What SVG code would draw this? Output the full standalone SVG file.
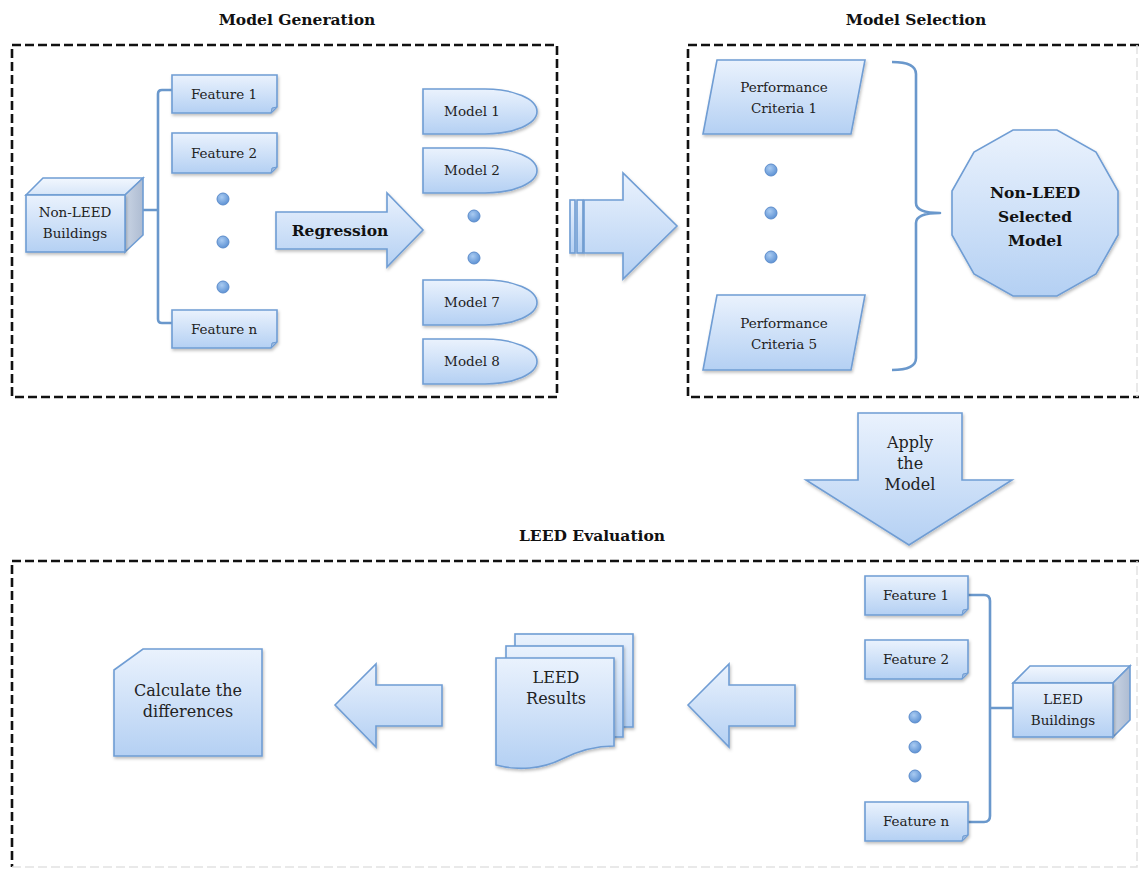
<svg xmlns="http://www.w3.org/2000/svg" width="1139" height="869" viewBox="0 0 1139 869">
<defs>
<linearGradient id="g" x1="0" y1="0" x2="0" y2="1"><stop offset="0" stop-color="#eaf2fd"/><stop offset="1" stop-color="#b4d0f3"/></linearGradient>
<linearGradient id="gt" x1="0" y1="0" x2="0" y2="1"><stop offset="0" stop-color="#f2f7fe"/><stop offset="1" stop-color="#d6e5f8"/></linearGradient>
<linearGradient id="gs" x1="0" y1="0" x2="1" y2="0"><stop offset="0" stop-color="#c9d4e4"/><stop offset="1" stop-color="#aebcd2"/></linearGradient>
<radialGradient id="gd" cx="0.4" cy="0.35" r="0.7"><stop offset="0" stop-color="#a9cbf2"/><stop offset="1" stop-color="#5a8fd2"/></radialGradient>
<filter id="sh" x="-10%" y="-10%" width="130%" height="130%"><feDropShadow dx="1" dy="2" stdDeviation="1.5" flood-color="#000" flood-opacity="0.25"/></filter>
</defs>
<style>
.s{fill:url(#g);stroke:#6f9dd4;stroke-width:1.6;filter:url(#sh)}
.top{fill:url(#gt);stroke:#6f9dd4;stroke-width:1.6}
.side{fill:url(#gs);stroke:#6f9dd4;stroke-width:1.6}
.dot{fill:url(#gd);stroke:#5c8ccb;stroke-width:1}
.frame{fill:none;stroke:#111;stroke-width:2.6;stroke-dasharray:9 4}
.faint{fill:none;stroke:#e2e2e2;stroke-width:1.5;stroke-dasharray:9 4}
.conn{fill:none;stroke:#6a98cc;stroke-width:2.6;stroke-linejoin:round}
text{font-family:"DejaVu Serif","Liberation Serif",serif;fill:#222;text-anchor:middle}
.t{font-size:13.5px}
.m{font-size:16px}
.b{font-weight:bold;font-size:15.5px;fill:#111}
</style>

<g id="frames">
<rect class="frame" x="12" y="45" width="545" height="352"/>
<path class="frame" d="M1139,45 H688 V397 H1139"/>
<path class="faint" d="M1137,45 V397"/>
<path class="frame" d="M1139,561 H12 V867"/>
<path class="faint" d="M12,867 H1137 V561"/>
<text class="b" x="297" y="25">Model Generation</text>
<text class="b" x="916" y="25">Model Selection</text>
<text class="b" x="592" y="541">LEED Evaluation</text>
</g>

<g id="connectors">
<path class="conn" d="M143,210 H158 M172,90 H162 Q158,90 158,94 V319 Q158,323 162,323 H172"/>
<path class="conn" d="M892,62 Q916,62 916,74 V203 Q916,213 940,213 Q916,213 916,223 V358 Q916,370 892,370"/>
<path class="conn" d="M968,595 H984 Q990,595 990,601 V816 Q990,822 984,822 H968 M990,708 H1013"/>
</g>

<g id="non-leed-buildings">
<polygon class="top" points="26,195 43,178 143,178 125,195"/>
<polygon class="side" points="125,195 143,178 143,235 125,252"/>
<rect class="s" x="26" y="195" width="99" height="57"/>
<text class="t" x="75" y="217">Non-LEED</text>
<text class="t" x="75" y="238">Buildings</text>
</g>

<g id="feature-1"><path class="s" d="M172,75 H277 V107 L271,113 H172 Z"/><path d="M277,107 L271,113 L272,108 Z" fill="#9bb8de" stroke="#6f9dd4" stroke-width="1"/><text class="t" x="224" y="99">Feature 1</text></g>
<g id="feature-2"><path class="s" d="M172,133 H277 V167 L271,173 H172 Z"/><path d="M277,167 L271,173 L272,168 Z" fill="#9bb8de" stroke="#6f9dd4" stroke-width="1"/><text class="t" x="224" y="158">Feature 2</text></g>
<g id="feature-dots-1"><circle class="dot" cx="223" cy="199" r="6"/><circle class="dot" cx="223" cy="242" r="6"/><circle class="dot" cx="223" cy="287" r="6"/></g>
<g id="feature-n"><path class="s" d="M172,310 H277 V342 L271,348 H172 Z"/><path d="M277,342 L271,348 L272,343 Z" fill="#9bb8de" stroke="#6f9dd4" stroke-width="1"/><text class="t" x="224" y="334">Feature n</text></g>

<g id="regression">
<polygon class="s" points="276,212 387,212 387,193 423,230 387,267 387,249 276,249"/>
<text class="b" x="340" y="236">Regression</text>
</g>

<g id="model-1"><path class="s" d="M423,89 H485 A52,22.5 0 0 1 485,134 H423 Z"/><text class="t" x="472" y="116">Model 1</text></g>
<g id="model-2"><path class="s" d="M423,148 H485 A52,22.5 0 0 1 485,193 H423 Z"/><text class="t" x="472" y="175">Model 2</text></g>
<g id="model-dots"><circle class="dot" cx="474" cy="216" r="6"/><circle class="dot" cx="474" cy="258" r="6"/></g>
<g id="model-7"><path class="s" d="M423,280 H485 A52,22.5 0 0 1 485,325 H423 Z"/><text class="t" x="472" y="307">Model 7</text></g>
<g id="model-8"><path class="s" d="M423,339 H485 A52,22.5 0 0 1 485,384 H423 Z"/><text class="t" x="472" y="366">Model 8</text></g>

<g id="to-selection-arrow">
<rect class="s" x="570" y="200" width="5" height="53"/>
<rect class="s" x="577" y="200" width="6" height="53"/>
<polygon class="s" points="584,200 623,200 623,173 677,226 623,279 623,253 584,253"/>
</g>

<g id="criteria-1"><polygon class="s" points="717,60 865,60 851,134 703,134"/><text class="t" x="784" y="92">Performance</text><text class="t" x="784" y="113">Criteria 1</text></g>
<g id="criteria-dots"><circle class="dot" cx="771" cy="170" r="6"/><circle class="dot" cx="771" cy="213" r="6"/><circle class="dot" cx="771" cy="257" r="6"/></g>
<g id="criteria-5"><polygon class="s" points="717,295 865,295 851,370 703,370"/><text class="t" x="784" y="328">Performance</text><text class="t" x="784" y="349">Criteria 5</text></g>

<g id="selected-model">
<polygon class="s" points="1118,235 1096,274 1057,296 1013,296 974,274 952,235 952,191 974,152 1013,130 1057,130 1096,152 1118,191"/>
<text class="b" x="1035" y="198">Non-LEED</text>
<text class="b" x="1035" y="222">Selected</text>
<text class="b" x="1035" y="246">Model</text>
</g>

<g id="apply-model">
<polygon class="s" points="858,413 962,413 962,480 1012,480 909,545 806,480 858,480"/>
<text class="m" x="910" y="448">Apply</text>
<text class="m" x="910" y="469">the</text>
<text class="m" x="910" y="490">Model</text>
</g>

<g id="leed-feature-1"><path class="s" d="M865,576 H968 V609 L962,615 H865 Z"/><path d="M968,609 L962,615 L963,610 Z" fill="#9bb8de" stroke="#6f9dd4" stroke-width="1"/><text class="t" x="916" y="600">Feature 1</text></g>
<g id="leed-feature-2"><path class="s" d="M865,640 H968 V673 L962,679 H865 Z"/><path d="M968,673 L962,679 L963,674 Z" fill="#9bb8de" stroke="#6f9dd4" stroke-width="1"/><text class="t" x="916" y="664">Feature 2</text></g>
<g id="leed-feature-dots"><circle class="dot" cx="915" cy="717" r="6"/><circle class="dot" cx="915" cy="747" r="6"/><circle class="dot" cx="915" cy="776" r="6"/></g>
<g id="leed-feature-n"><path class="s" d="M865,802 H968 V835 L962,841 H865 Z"/><path d="M968,835 L962,841 L963,836 Z" fill="#9bb8de" stroke="#6f9dd4" stroke-width="1"/><text class="t" x="916" y="826">Feature n</text></g>

<g id="leed-buildings">
<polygon class="top" points="1013,683 1030,666 1130,666 1113,683"/>
<polygon class="side" points="1113,683 1130,666 1130,720 1113,737"/>
<rect class="s" x="1013" y="683" width="100" height="54"/>
<text class="t" x="1063" y="704">LEED</text>
<text class="t" x="1063" y="725">Buildings</text>
</g>

<g id="arrow-to-results"><polygon class="s" points="688,705 729,664 729,685 795,685 795,726 729,726 729,747"/></g>

<g id="leed-results">
<rect class="s" x="515" y="634" width="118" height="93"/>
<rect class="s" x="506" y="646" width="117" height="91"/>
<path class="s" d="M496,658 H614 V746 C596,746 580,750 562,759 C542,769 518,771 496,765 Z"/>
<text class="m" x="556" y="683">LEED</text>
<text class="m" x="556" y="704">Results</text>
</g>

<g id="arrow-to-calc"><polygon class="s" points="335,705 376,664 376,685 442,685 442,726 376,726 376,747"/></g>

<g id="calculate">
<path class="s" d="M143,649 H262 V756 H114 V670 Z"/>
<text class="m" x="188" y="696">Calculate the</text>
<text class="m" x="188" y="717">differences</text>
</g>
</svg>
